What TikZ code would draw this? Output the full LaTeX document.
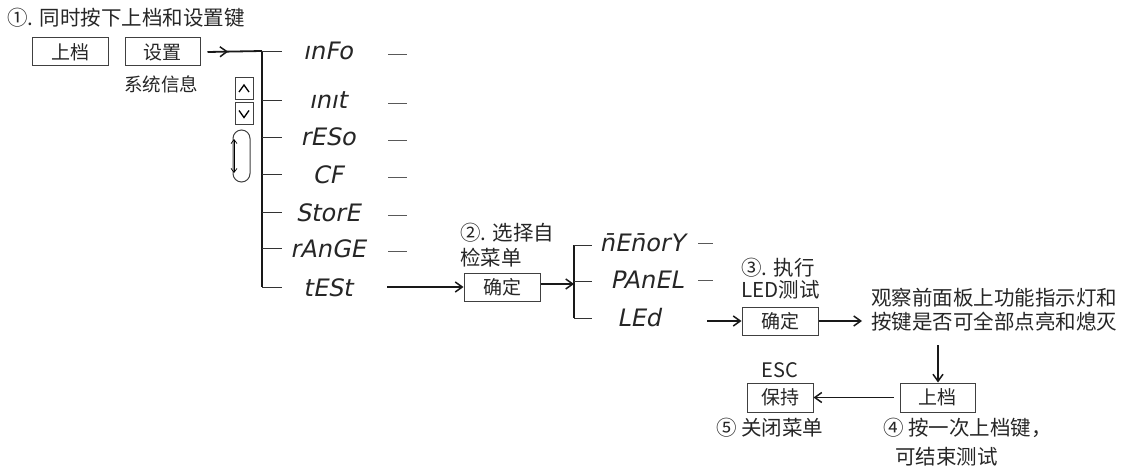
\documentclass[tikz,border=0pt]{standalone}
\usepackage{fontspec}
\setmainfont{Noto Sans CJK SC}
\newfontfamily\segfont{DejaVu Sans}[FakeSlant=0.2]
\usetikzlibrary{arrows.meta,decorations.markings,calc}
\begin{document}
\begin{tikzpicture}[x=1pt,y=-1pt,
  every node/.style={text=black!85},
  box/.style={draw=black!75, line width=1pt, minimum width=76pt, minimum height=28pt, inner sep=0pt, font=\fontsize{19}{19}\selectfont},
  keybox/.style={draw=black!75, line width=1pt, minimum width=18pt, minimum height=22pt, inner sep=0pt},
  lbl/.style={inner sep=0pt, font=\fontsize{20.5}{24}\selectfont},
  seg/.style={inner sep=0pt, anchor=base, font=\segfont\fontsize{24}{24}\selectfont},
  trunk/.style={line width=2.4pt, black!90},
  tick/.style={line width=0.9pt, black!80},
  dashmark/.style={line width=0.9pt, black!65},
  tip/.style={-{Straight Barb[length=7pt,width=10pt,line width=1.5pt]}},
  arr/.style={line width=1.8pt, black!90, tip},
]
\fill[white] (0,0) rectangle (1126,468);
\useasboundingbox (0,0) rectangle (1126,468);

% step 1
\node[lbl, anchor=west] (title) at (7,18) {①. 同时按下上档和设置键};
\node[box] (sd) at (70,52) {上档};
\node[box, minimum width=75pt] (sz) at (162.5,52) {设置};
\node[lbl, font=\fontsize{18.5}{18.5}\selectfont] (xt) at (161,84) {系统信息};

% up / down keys and scroll
\node[keybox] (up) at (244,89) {};
\draw[line width=1.3pt] ($(up.center)+(-5,3)$) -- ($(up.center)+(0,-4)$) -- ($(up.center)+(5,3)$);
\node[keybox] (dn) at (244,113.5) {};
\draw[line width=1.3pt] ($(dn.center)+(-5,-3)$) -- ($(dn.center)+(0,4)$) -- ($(dn.center)+(5,-3)$);
\node[draw=black!75, line width=1pt, minimum width=17pt, minimum height=52pt, rounded corners=8.5pt, inner sep=0pt] (ov) at (241.5,156) {};
\draw[line width=0.7pt, {Straight Barb[length=4pt,width=6pt]}-{Straight Barb[length=4pt,width=6pt]}] ($(ov.west)+(1.5,-17)$) -- ($(ov.west)+(1.5,17)$);

% main trunk
\coordinate (j0) at (262,51);
\coordinate (jb) at (262,287);
\draw[line width=1.8pt, black!90, postaction={decorate},
  decoration={markings, mark=at position 0.38 with {\arrow{Straight Barb[length=7pt,width=10pt,line width=1.5pt]}}}]
  ($(sz.east)+(7,0)$) -- (j0);
\draw[trunk] (j0) -- (jb);

\foreach \n/\y/\t/\d in {a/51/ınFo/1, b/100/ınıt/1, c/137/rESo/1, d/174/CF/1, e/212/StorE/1, f/248/rAnGE/1, g/287/tESt/0}{
  \coordinate (r\n) at (262,\y);
  \draw[tick] (r\n) -- ++(20,0);
  \node[seg] (s\n) at (328,\y+9) {\t};
  \ifnum\d=1 \draw[dashmark] (388,\y+3) -- (407,\y+3); \fi
}

% step 2
\coordinate (ts) at (387,287);
\node[box] (q1) at (502,287) {确定};
\draw[arr] (ts) -- (q1.west);
\node[lbl, anchor=west] (l2a) at (460,233) {②. 选择自};
\node[lbl, anchor=west] (l2b) at (460,258) {检菜单};

\coordinate (m0) at (574,245);
\coordinate (mi) at (574,284);
\coordinate (m2) at (574,318);
\draw[arr] (q1.east |- mi) -- (mi);
\draw[trunk] (m0) -- (m2);
\draw[tick] (m0) -- ++(18,0);
\draw[tick] (574,281) -- ++(18,0);
\draw[tick] (m2) -- ++(18,0);
\node[seg] (ma) at (642,251) {n̄En̄orY};
\node[seg] (mb) at (647,288) {PAnEL};
\node[seg] (mc) at (639,326) {LEd};
\draw[dashmark] (698,243) -- (713,243);
\draw[dashmark] (698,280) -- (713,280);

% step 3
\coordinate (ls) at (707,321);
\node[box] (q2) at (780,321) {确定};
\draw[arr] (ls) -- (q2.west);
\node[lbl, anchor=west] (l3a) at (741,268) {③. 执行};
\node[lbl, anchor=west] (l3b) at (741,290) {LED测试};
\node[lbl, anchor=west, align=left] (obs) at (871,310) {观察前面板上功能指示灯和\\按键是否可全部点亮和熄灭};
\draw[arr] (q2.east) -- ($(q2.east -| obs.west)+(-9,0)$);

% step 4 / 5
\coordinate (dd) at (938,345);
\node[box, minimum width=75pt, minimum height=29pt] (sd2) at (937.5,397.5) {上档};
\draw[arr] (dd) -- (dd |- sd2.north);
\node[box, minimum width=66pt, minimum height=29pt] (bj) at (780,397.5) {保持};
\draw[arr] ($(sd2.west)+(-6,0)$) -- (bj.east);
\node[lbl, font=\fontsize{20}{20}\selectfont] (esc) at (780,370) {ESC};
\node[lbl, anchor=west] (l5) at (716,428) {⑤ 关闭菜单};
\node[lbl, anchor=west] (l4a) at (883,428) {④ 按一次上档键，};
\node[lbl, anchor=west] (l4b) at (895,457) {可结束测试};
\end{tikzpicture}
\end{document}
